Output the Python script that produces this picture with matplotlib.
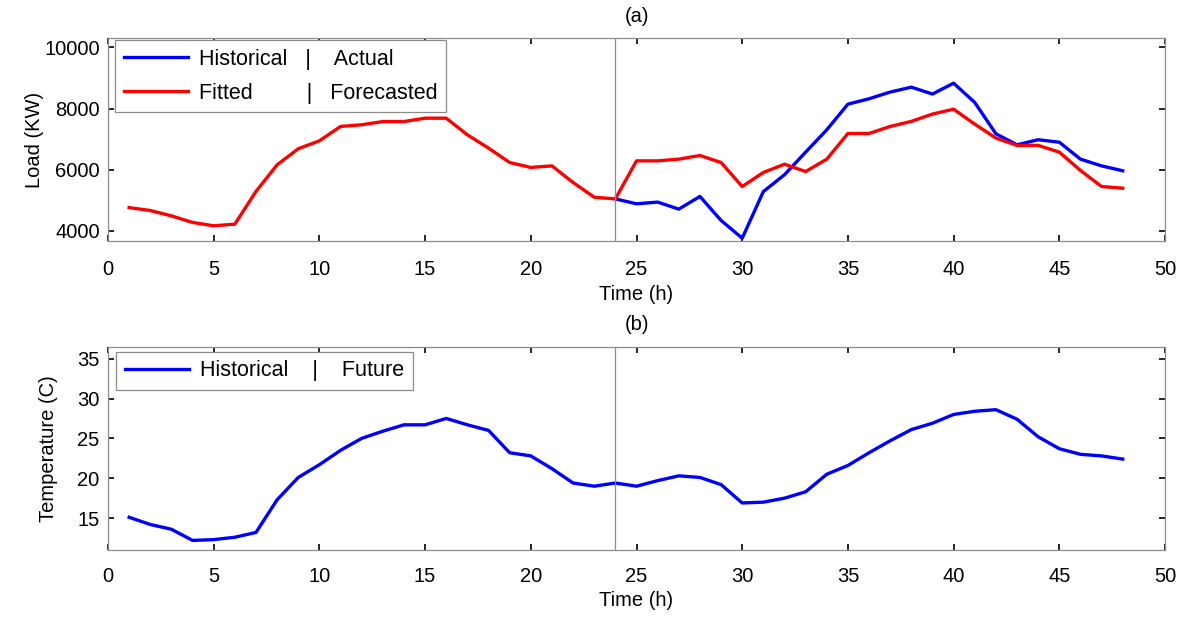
import numpy as np
import matplotlib
matplotlib.use('Agg')
import matplotlib.pyplot as plt

plt.rcParams['font.family'] = ['Liberation Sans', 'DejaVu Sans']
plt.rcParams['font.size'] = 14.5

hours = np.arange(1, 49)

# load fitted (1-24) and forecasted (24-48)
load_model = [4760, 4665, 4490, 4275, 4165, 4220, 5290, 6160, 6685, 6945,
              7415, 7470, 7575, 7575, 7685, 7685, 7140, 6705, 6235, 6075,
              6125, 5580, 5100, 5045, 6290, 6290, 6345, 6465, 6235, 5450,
              5910, 6180, 5940, 6345, 7185, 7185, 7415, 7580, 7820, 7980,
              7490, 7035, 6795, 6795, 6575, 5975, 5450, 5395]

# actual load for the forecast window
actual_hours = np.arange(24, 49)
load_actual = [5045, 4885, 4940, 4710, 5125, 4340, 3760, 5285, 5835, 6575,
               7305, 8145, 8320, 8540, 8700, 8475, 8830, 8200, 7175, 6815,
               6980, 6900, 6345, 6125, 5965]

temperature = [15.1, 14.2, 13.6, 12.2, 12.3, 12.6, 13.2, 17.3, 20.1, 21.7,
               23.5, 25.0, 25.9, 26.7, 26.7, 27.5, 26.7, 26.0, 23.2, 22.8,
               21.2, 19.4, 19.0, 19.4, 19.0, 19.7, 20.3, 20.1, 19.2, 16.9,
               17.0, 17.5, 18.3, 20.5, 21.6, 23.2, 24.7, 26.1, 26.9, 28.0,
               28.4, 28.6, 27.4, 25.2, 23.7, 23.0, 22.8, 22.4]

split_hour = 24

fig = plt.figure(figsize=(11.83, 6.17), dpi=100)
ax1 = fig.add_axes([0.0913, 0.610, 0.8935, 0.328])
ax2 = fig.add_axes([0.0913, 0.1086, 0.8935, 0.3295])

lw = 2.4
leg_fs = 15.5

def style_axes(ax, xpad):
    for sp in ax.spines.values():
        sp.set_color('#8c8c8c')
        sp.set_linewidth(0.9)
    ax.tick_params(direction='in', length=4, width=1.2, color='black',
                   top=True, right=True)
    ax.tick_params(axis='x', pad=xpad)
    ax.tick_params(axis='y', pad=6)
    ax.set_xlim(0, 50)
    ax.set_xticks(range(0, 51, 5))
    ax.set_xlabel('Time (h)', labelpad=4)

# (a) load
ax1.plot(actual_hours, load_actual, color='#0000ff', lw=lw,
         label='Historical   |    Actual')
ax1.plot(hours, load_model, color='#ff0000', lw=lw,
         label='Fitted         |   Forecasted')
ax1.axvline(split_hour, color='#8c8c8c', lw=0.9)
ax1.set_ylim(3680, 10300)
ax1.set_yticks([4000, 6000, 8000, 10000])
ax1.set_ylabel('Load (KW)', labelpad=0)
ax1.set_title('(a)', fontsize=14.5, pad=12)
style_axes(ax1, 14)
leg = ax1.legend(loc='upper left', bbox_to_anchor=(0.0066, 0.99), fancybox=False,
                 framealpha=1, edgecolor='#8c8c8c', handlelength=3.0,
                 borderpad=0.4, labelspacing=0.6, handletextpad=0.5,
                 borderaxespad=0, fontsize=leg_fs)
leg.get_frame().set_linewidth(0.9)

# (b) temperature
ax2.plot(hours, temperature, color='#0000ff', lw=lw,
         label='Historical    |    Future')
ax2.axvline(split_hour, color='#8c8c8c', lw=0.9)
ax2.set_ylim(11, 36.5)
ax2.set_yticks([15, 20, 25, 30, 35])
ax2.set_ylabel('Temperature (C)', labelpad=14)
ax2.set_title('(b)', fontsize=14.5, pad=12)
style_axes(ax2, 12)
leg2 = ax2.legend(loc='upper left', bbox_to_anchor=(0.0076, 0.975), fancybox=False,
                  framealpha=1, edgecolor='#8c8c8c', handlelength=3.0,
                  borderpad=0.4, handletextpad=0.5, borderaxespad=0,
                  fontsize=leg_fs)
leg2.get_frame().set_linewidth(0.9)

fig.savefig('out.png', dpi=100)
